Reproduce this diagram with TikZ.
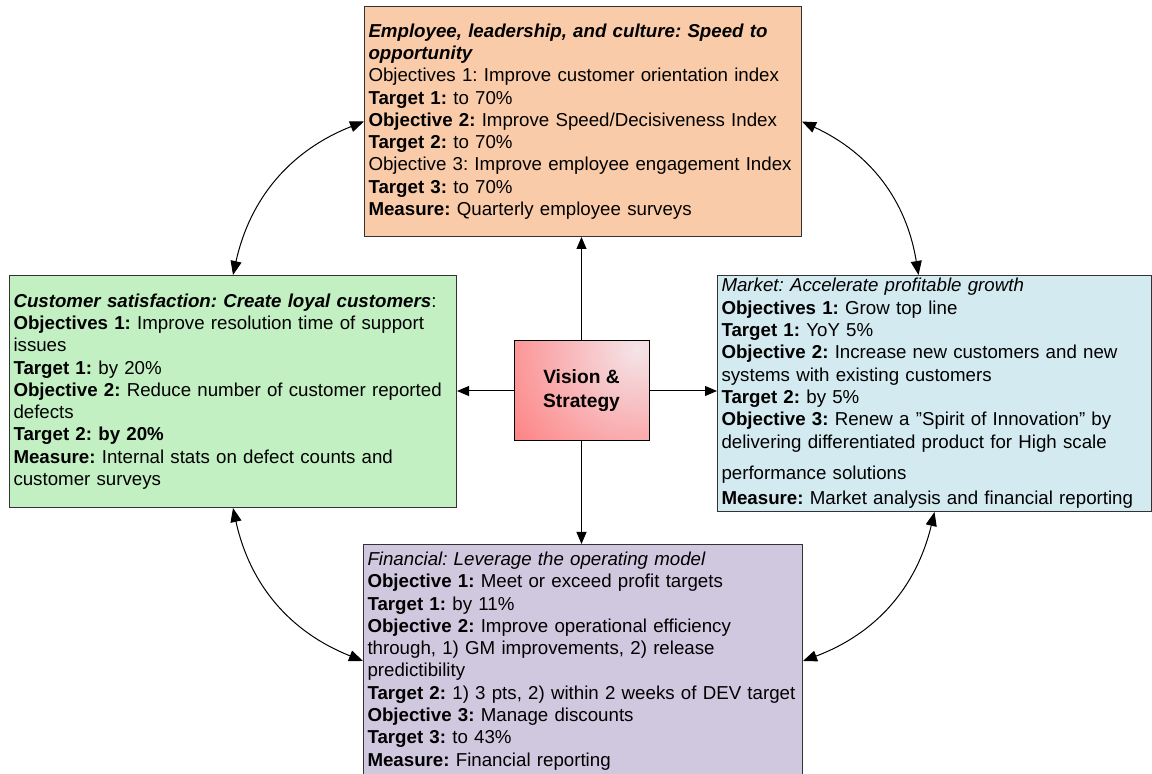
\documentclass[tikz,border=0pt]{standalone}
\usepackage{fontspec}
\setmainfont{Liberation Sans}
\usetikzlibrary{arrows.meta}
\definecolor{empfill}{RGB}{250,203,168}
\definecolor{custfill}{RGB}{194,240,194}
\definecolor{mktfill}{RGB}{210,234,240}
\definecolor{finfill}{RGB}{208,200,223}
\definecolor{visin}{RGB}{244,228,232}
\definecolor{visout}{RGB}{255,120,120}
\frenchspacing
\begin{document}
\begin{tikzpicture}[x=0.5pt,y=-0.5pt,
    box/.style={draw=black!80,line width=0.5pt,anchor=north west,inner xsep=2pt,inner ysep=0pt,
        align=left,font={\fontsize{9.35}{11.15}\selectfont}},
    link/.style={line width=0.5pt,-{Triangle[length=6pt,width=5pt]}},
    dlink/.style={line width=0.5pt,{Triangle[length=7pt,width=5.5pt]}-{Triangle[length=7pt,width=5.5pt]}}]
    \useasboundingbox (0,0) rectangle (1152,774);
    \node[box,fill=empfill,minimum width=218.5pt,minimum height=115pt,text width=214.5pt] (emp) at (364,6) {%
        \textbf{\textit{Employee, leadership, and culture: Speed to}}\\
        \textbf{\textit{opportunity}}\\
        Objectives 1: Improve customer orientation index\\
        \textbf{Target 1:} to 70\%\\
        \textbf{Objective 2:} Improve Speed/Decisiveness Index\\
        \textbf{Target 2:} to 70\%\\
        Objective 3: Improve employee engagement Index\\
        \textbf{Target 3:} to 70\%\\
        \textbf{Measure:} Quarterly employee surveys};
    \node[box,fill=custfill,minimum width=223.5pt,minimum height=116pt,text width=219.5pt] (cust) at (9,275) {%
        \textbf{\textit{Customer satisfaction: Create loyal customers}}:\\
        \textbf{Objectives 1:} Improve resolution time of support\\
        issues\\
        \textbf{Target 1:} by 20\%\\
        \textbf{Objective 2:} Reduce number of customer reported\\
        defects\\
        \textbf{Target 2: by 20\%}\\
        \textbf{Measure:} Internal stats on defect counts and\\
        customer surveys};
    \node[box,fill=mktfill,minimum width=217pt,minimum height=118pt,text width=213pt] (mkt) at (717,275) {%
        \textit{Market: Accelerate profitable growth}\\
        \textbf{Objectives 1:} Grow top line\\
        \textbf{Target 1:} YoY 5\%\\
        \textbf{Objective 2:} Increase new customers and new\\
        systems with existing customers\\
        \textbf{Target 2:} by 5\%\\
        \textbf{Objective 3:} Renew a ”Spirit of Innovation” by\\
        delivering differentiated product for High scale\\[4.5pt]
        performance solutions\\[1.5pt]
        \textbf{Measure:} Market analysis and financial reporting};
    \node[box,fill=finfill,minimum width=219.5pt,minimum height=116.5pt,text width=215.5pt] (fin) at (363,544) {%
        \textit{Financial: Leverage the operating model}\\
        \textbf{Objective 1:} Meet or exceed profit targets\\
        \textbf{Target 1:} by 11\%\\
        \textbf{Objective 2:} Improve operational efficiency\\
        through, 1) GM improvements, 2) release\\
        predictibility\\
        \textbf{Target 2:} 1) 3 pts, 2) within 2 weeks of DEV target\\
        \textbf{Objective 3:} Manage discounts\\
        \textbf{Target 3:} to 43\%\\
        \textbf{Measure:} Financial reporting};
    \node[draw=black,line width=0.5pt,minimum width=67.5pt,minimum height=50pt,align=center,
        font={\fontsize{9.6}{12}\selectfont\bfseries},
        path picture={\shade[inner color=visin,outer color=visout]
            ([xshift=-6pt,yshift=-4pt]path picture bounding box.north east) circle (85pt);}]
        (vis) at (581.5,391) {Vision \&\\Strategy};
    \draw[link] (vis.north) -- (vis.north |- emp.south);
    \draw[link] (vis.west) -- (vis.west -| cust.east);
    \draw[link] (vis.east) -- (vis.east -| mkt.west);
    \draw[link] (vis.south) -- (vis.south |- fin.north);
    \draw[dlink] (emp.west) to[bend right=28] (cust.north);
    \draw[dlink] (emp.east) to[bend left=28] ([xshift=-8pt]mkt.north);
    \draw[dlink] (cust.south) to[bend right=28] (fin.west);
    \draw[dlink] (mkt.south) to[bend left=28] (fin.east);
\end{tikzpicture}
\end{document}
